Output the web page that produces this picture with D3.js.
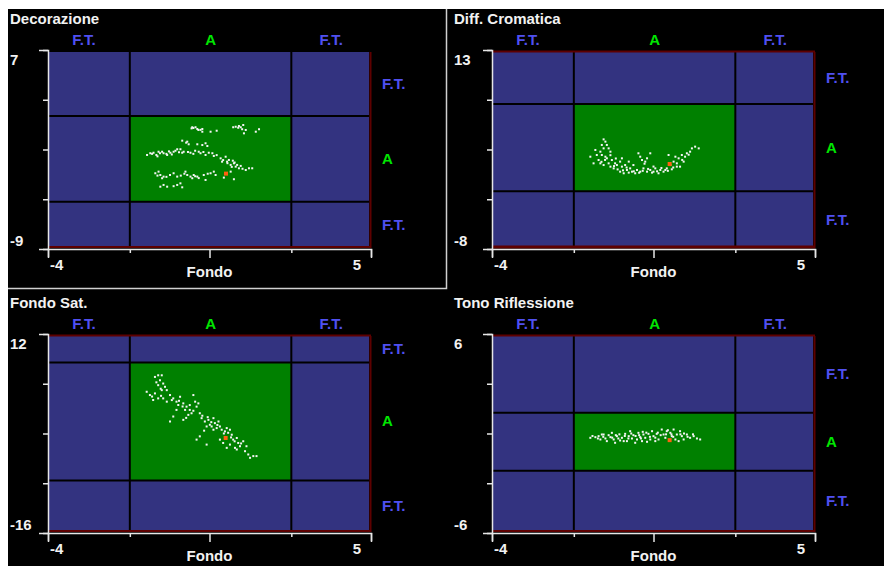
<!DOCTYPE html>
<html>
<head>
<meta charset="utf-8">
<script src="https://cdn.jsdelivr.net/npm/d3@7"></script>
<style>
  body { margin: 0; background: #fff; }
  svg { display: block; font-family: "Liberation Sans", Arial, sans-serif; font-weight: bold; }
</style>
</head>
<body>
<script>
// Chart data
const panelTitles = ["Decorazione", "Diff. Cromatica", "Fondo Sat.", "Tono Riflessione"];
const xDomain = [-4, 5];
const xTickValues = [-4, -1.72, 0.5, 2.78, 5];
const xZone = [-1.72, 2.78];
const xTitle = "Fondo";
const yDomains = [[-9, 7], [-8, 13], [-16, 12], [-6, 6]];
const yTickValues = [
    [-9, -5, -1, 3, 7],
    [-8, -2.75, 2.5, 7.75, 13],
    [-16, -9, -2, 5, 12],
    [-6, -3, 0, 3, 6]
];
const yZones = [[-5.2, 1.7], [-1.9, 7.3], [-8.6, 8], [-2.25, 1.25]];
const zoneLabels = ["F.T.", "A", "F.T."];

const decorazionePoints = [
    [0.02,0.79],[0.05,0.73],[0.11,0.79],[0.16,0.65],[0.19,0.57],[0.30,0.65],[0.30,0.43],[0.53,0.43],[0.70,0.51],
    [1.16,0.79],[1.23,0.83],[1.32,0.89],[1.37,0.79],[1.44,0.97],[1.41,0.63],[1.46,0.30],[1.51,0.57],[1.79,0.43],[1.88,0.63],
    [-0.26,-0.29],[-0.12,-0.37],[-0.08,-0.58],[0.16,-0.58],[0.30,-0.64],[0.39,-0.50],[0.44,-0.72],
    [-1.24,-1.44],[-1.15,-1.30],[-1.06,-1.26],[-0.98,-1.44],[-0.92,-1.18],[-0.82,-1.18],[-0.78,-1.30],[-0.68,-1.44],
    [-0.59,-1.26],[-0.50,-1.18],[-0.40,-0.98],[-0.31,-0.98],[-0.26,-1.26],[-0.22,-1.18],[-0.03,-1.26],[0.20,-1.18],
    [0.25,-1.30],[0.39,-1.44],[0.48,-1.26],[0.58,-1.30],[0.62,-1.52],[-0.70,-1.35],[-0.45,-1.10],[-0.10,-1.20],
    [0.10,-1.10],[-0.95,-1.55],[-0.55,-1.40],
    [0.81,-1.71],[0.85,-1.98],[0.95,-1.58],[0.99,-1.98],[1.04,-1.84],[1.09,-2.24],[1.18,-2.11],[1.23,-2.38],
    [1.27,-2.24],[1.32,-2.51],[1.37,-2.32],[1.09,-2.78],[1.51,-2.65],[1.60,-2.51],[1.69,-2.51],[1.18,-3.39],
    [1.00,-2.10],[1.15,-1.90],[1.20,-2.05],
    [-1.01,-2.91],[-0.92,-2.78],[-0.87,-3.05],[-0.78,-3.18],[-0.82,-3.31],[-0.50,-2.91],[-0.40,-3.18],[-0.17,-2.78],
    [-0.12,-3.05],[-0.03,-3.18],[0.02,-3.31],[0.06,-3.05],[0.16,-3.18],[0.34,-3.05],[0.39,-3.45],[0.53,-2.91],
    [0.62,-2.78],[0.67,-3.05],[0.90,-3.26],[-0.60,-3.05],[-0.30,-3.10],[0.20,-3.30],
    [-0.87,-3.99],[-0.78,-3.85],[-0.68,-3.99],[-0.40,-3.85],[-0.31,-3.72],[-0.26,-4.04],
    [-1.10,-1.35],[-0.88,-1.30],[-0.63,-1.15],[-0.35,-1.22],[0.05,-1.35],[0.33,-1.20],[0.70,-1.45],[0.88,-1.85],
    [1.12,-2.40],[1.42,-2.55],[-0.95,-3.10],[-0.70,-3.20],[-0.20,-2.95],[0.10,-3.15],[0.45,-2.95],[-0.50,-3.95],
    [0.00,0.70],[1.30,0.75],[0.25,0.58],[-0.15,-0.45]
];

const diffCromaticaPoints = [
    [-0.89,3.57],[-0.84,3.33],[-0.94,2.98],[-0.80,2.98],[-0.75,2.62],[-0.89,2.62],[-0.98,2.27],[-1.08,1.92],
    [-0.94,1.92],[-0.84,1.74],[-1.03,1.39],[-0.70,2.27],[-0.66,1.39],[-1.17,1.04],[-0.98,1.04],[-0.89,0.86],
    [-0.75,1.04],[-0.70,0.69],[-0.61,0.51],[-0.52,0.86],[-0.43,1.22],[-0.38,0.69],[-0.29,0.86],[-0.24,0.34],
    [-0.15,0.51],[-0.10,0.16],[-0.06,0.86],[-0.01,-0.01],[0.04,0.34],[0.08,2.10],[0.13,1.74],[0.18,1.39],
    [0.27,1.22],[0.32,1.57],[0.41,2.10],[0.22,0.51],[0.32,0.16],[0.41,0.34],[0.50,0.16],[0.55,0.51],
    [0.64,-0.01],[0.69,0.34],[0.78,0.16],[0.87,0.51],[0.97,0.86],[1.06,1.22],[1.15,1.04],[1.20,1.57],
    [1.24,0.69],[1.34,1.22],[1.38,1.74],[1.43,2.10],[1.52,2.27],[1.57,2.62],[1.66,2.80],[1.76,2.62],
    [0.92,1.92],[1.11,1.74],[1.29,1.92],[-0.38,1.57],[-0.19,1.22],[-1.26,1.74],[-1.12,2.45],
    [-0.43,0.16],[-0.33,-0.01],[-0.19,0.06],[0.13,0.16],[0.46,0.06],[0.83,0.34],[1.01,0.41],[1.15,0.69],
    [-0.80,1.57],[-0.57,1.04],
    [-0.95,1.20],[-0.85,1.40],[-0.60,0.75],[-0.50,0.40],[-0.35,0.30],[-0.25,0.60],[-0.05,0.20],[0.10,0.05],
    [0.20,0.25],[0.35,0.45],[0.60,0.20],[0.72,0.55],[0.90,0.25],[1.05,0.60],[1.30,1.40],[1.48,1.95],
    [-0.70,1.90],[-0.55,1.55],[0.25,1.00],[0.50,0.70]
];

const fondoSatPoints = [
    [-1.02,5.96],[-0.93,6.19],[-0.88,5.49],[-0.83,6.19],[-0.79,5.03],[-0.93,4.80],[-0.74,4.57],[-0.83,4.10],
    [-0.69,4.10],[-1.25,3.87],[-1.16,3.41],[-1.02,3.64],[-0.93,2.94],[-1.07,2.71],[-0.79,2.94],[-0.69,2.48],
    [-0.60,3.41],[-0.51,2.94],[-0.42,2.48],[-0.32,3.17],[-0.37,2.01],[-0.23,2.24],[-0.14,1.78],[-0.18,1.32],
    [-0.05,1.32],[0.00,0.85],[0.05,3.41],[0.10,2.48],[0.14,1.78],[0.19,2.24],[0.23,0.85],[0.28,0.16],
    [0.37,-0.31],[0.47,-0.08],[0.51,-0.77],[0.42,-1.01],[0.61,0.16],[0.65,-0.54],[0.70,-1.24],[0.79,-1.01],
    [0.84,-1.47],[0.93,-1.70],[0.98,-1.24],[1.07,-1.47],[1.12,-2.17],[1.16,-2.86],[1.26,-2.63],[1.30,-3.33],
    [1.35,-3.79],[1.44,-3.09],[1.07,-3.56],[0.98,-4.02],[1.49,-4.49],[1.58,-4.95],[1.63,-5.42],[1.72,-5.18],
    [1.81,-5.18],[-0.60,-0.31],[-0.51,0.39],[-0.23,-0.08],[0.14,-2.86],[0.23,-2.40],[0.42,-3.56],[0.61,-1.47],
    [0.79,-2.86],[0.88,-3.33],[1.21,-4.02],[-0.42,1.32],[-0.09,0.62],[0.56,-1.01],[0.75,-0.31],[1.26,-4.25],
    [1.53,-3.79],
    [-0.98,5.20],[-0.86,4.30],[-1.10,3.20],[-0.85,3.30],[-0.55,2.70],[-0.35,2.60],[-0.25,1.80],[-0.05,2.00],
    [0.05,1.20],[0.30,0.50],[0.45,0.30],[0.55,-0.40],[0.72,-0.80],[0.90,-2.00],[1.02,-1.90],[1.20,-3.10],
    [1.38,-3.40],[1.10,-2.55],[0.35,-1.60],[-0.15,0.20]
];

const tonoRiflessionePoints = [
    [-1.26,-0.26],[-1.12,-0.22],[-1.03,-0.16],[-0.98,-0.36],[-0.89,-0.06],[-0.84,-0.30],[-0.80,-0.46],[-0.70,-0.22],
    [-0.61,-0.36],[-0.57,-0.56],[-0.52,-0.16],[-0.43,-0.42],[-0.38,-0.26],[-0.29,-0.02],[-0.24,-0.46],[-0.19,-0.16],
    [-0.15,0.14],[-0.10,-0.30],[-0.06,-0.10],[0.04,-0.36],[0.08,0.04],[0.13,-0.22],[0.18,-0.46],[0.22,-0.06],
    [0.27,-0.26],[0.36,-0.02],[0.41,-0.36],[0.46,0.14],[0.50,-0.16],[0.59,-0.02],[0.64,-0.36],[0.73,0.24],
    [0.78,-0.06],[0.83,-0.26],[0.87,0.14],[0.97,0.04],[1.01,-0.16],[1.06,0.24],[1.11,-0.36],[1.15,-0.06],
    [1.24,0.14],[1.29,-0.16],[1.34,-0.36],[1.43,-0.06],[1.52,-0.26],[1.62,-0.16],[1.71,-0.30],[1.80,-0.36],
    [-0.94,-0.06],[-0.66,0.04],[-0.33,-0.46],[-0.01,-0.56],[0.32,-0.50],[0.55,-0.46],[1.20,-0.46],
    [-0.75,-0.10],[-0.45,-0.05],[0.00,-0.15],[0.30,0.05],[0.70,-0.10],[1.00,-0.05],[1.35,0.00],[-0.20,-0.30],
    [-1.20,-0.15],[-1.05,-0.30],[-0.90,-0.20],[-0.65,-0.25],[-0.48,-0.30],[-0.30,-0.15],[-0.12,0.00],[0.10,-0.10],
    [0.20,0.10],[0.40,-0.20],[0.62,0.05],[0.85,-0.05],[1.05,-0.20],[1.25,-0.05],[1.45,-0.20],[1.60,-0.05],
    [-0.55,-0.10],[0.15,-0.30],[0.55,-0.25],[0.90,0.20]
];

const panelPoints = [decorazionePoints, diffCromaticaPoints, fondoSatPoints, tonoRiflessionePoints];
const currentPoints = [[0.96, -2.94], [0.95, 0.97], [0.95, -2.63], [0.95, -0.40]];

// Layout
const W = 884, H = 566;
const offsets = [[0, 0], [444, 0], [0, 284], [444, 284]];
const blue = "#333380", green = "#008000", maroon = "#5e0000", axisCol = "#e6e6e6";

const svg = d3.select("body").append("svg")
    .attr("width", W)
    .attr("height", H);

svg.append("rect")
    .attr("x", 8).attr("y", 9)
    .attr("width", W - 8).attr("height", H - 9)
    .attr("fill", "#000");

// frame around the first panel
svg.append("path")
    .attr("d", "M446.5,9 V288.5 H8")
    .attr("fill", "none")
    .attr("stroke", "#d0d0d0")
    .attr("stroke-width", 1.5);

panelTitles.forEach((title, i) => {
    const [dx, dy] = offsets[i];
    const g = svg.append("g").attr("transform", `translate(${dx},${dy})`);

    const x = d3.scaleLinear().domain(xDomain).range([48, 371]);
    const y = d3.scaleLinear().domain(yDomains[i]).range([249, 50]);

    const top = 52, bottom = 248, left = 48, right = 369;
    const xb = [xDomain[0], xZone[0], xZone[1], xDomain[1]];
    const yb = [yDomains[i][0], yZones[i][0], yZones[i][1], yDomains[i][1]];

    // zone cells
    for (let r = 0; r < 3; r++) {
        for (let c = 0; c < 3; c++) {
            const x0 = Math.max(left, x(xb[c])), x1 = Math.min(right, x(xb[c + 1]));
            const y0 = Math.max(top, y(yb[r + 1])), y1 = Math.min(bottom, y(yb[r]));
            g.append("rect")
                .attr("x", x0).attr("y", y0)
                .attr("width", x1 - x0).attr("height", y1 - y0)
                .attr("fill", (r === 1 && c === 1) ? green : blue);
        }
    }

    // zone borders
    xZone.forEach(v => {
        g.append("line")
            .attr("x1", x(v)).attr("x2", x(v))
            .attr("y1", top).attr("y2", bottom)
            .attr("stroke", "#000").attr("stroke-width", 2);
    });
    yZones[i].forEach(v => {
        g.append("line")
            .attr("x1", left).attr("x2", right + 1)
            .attr("y1", y(v)).attr("y2", y(v))
            .attr("stroke", "#000").attr("stroke-width", 2);
    });

    // dark red frame
    g.append("line")
        .attr("x1", 370.5).attr("x2", 370.5).attr("y1", top).attr("y2", bottom)
        .attr("stroke", maroon).attr("stroke-width", 2);
    g.append("line")
        .attr("x1", left).attr("x2", 371).attr("y1", 247).attr("y2", 247)
        .attr("stroke", maroon).attr("stroke-width", i === 1 ? 3 : 2);
    if (i > 0) {
        g.append("line")
            .attr("x1", left).attr("x2", 371).attr("y1", 51.5).attr("y2", 51.5)
            .attr("stroke", maroon).attr("stroke-width", 2);
    }

    // scatter
    g.selectAll("rect.pt")
        .data(panelPoints[i])
        .enter()
        .append("rect")
        .attr("class", "pt")
        .attr("x", d => x(d[0]) - 1)
        .attr("y", d => y(d[1]) - 1)
        .attr("width", 2)
        .attr("height", 2)
        .attr("fill", "#f4f4f4");

    g.append("rect")
        .attr("x", x(currentPoints[i][0]) - 2)
        .attr("y", y(currentPoints[i][1]) - 2)
        .attr("width", 4).attr("height", 4)
        .attr("fill", "#ff6010");

    // Y axis
    const yAxis = g.append("g")
        .attr("transform", "translate(48,0)")
        .call(d3.axisLeft(y).tickValues(yTickValues[i]).tickSizeOuter(0).tickSize(5).tickFormat(""));
    yAxis.selectAll(".tick line")
        .attr("x2", (d, k) => (k === 0 || k === 4) ? -9 : -5);
    yAxis.selectAll("path, line").attr("stroke", axisCol).attr("stroke-width", 1.5);

    // X axis
    const xAxis = g.append("g")
        .attr("transform", "translate(0,249)")
        .call(d3.axisBottom(x).tickValues(xTickValues).tickSizeOuter(0).tickSize(8).tickFormat(""));
    xAxis.selectAll(".tick line")
        .attr("y2", (d, k) => (k % 2 === 0) ? 9 : 4);
    xAxis.selectAll("path, line").attr("stroke", axisCol).attr("stroke-width", 1.5);

    // labels
    g.append("text")
        .attr("x", 10).attr("y", 24)
        .attr("fill", "#f2f2f2")
        .attr("font-size", 15)
        .text(title);

    g.append("text")
        .attr("x", 10).attr("y", y(yDomains[i][1]) + 15)
        .attr("fill", "#f2f2f2").attr("font-size", 15)
        .text(yDomains[i][1]);
    g.append("text")
        .attr("x", 10).attr("y", y(yDomains[i][0]) - 3)
        .attr("fill", "#f2f2f2").attr("font-size", 15)
        .text(yDomains[i][0]);

    g.append("text")
        .attr("x", x(xDomain[0]) + 2).attr("y", 270)
        .attr("fill", "#f2f2f2").attr("font-size", 15)
        .text(xDomain[0]);
    g.append("text")
        .attr("x", x(xDomain[1]) - 10).attr("y", 270)
        .attr("text-anchor", "end")
        .attr("fill", "#f2f2f2").attr("font-size", 15)
        .text(xDomain[1]);
    g.append("text")
        .attr("x", x(xTickValues[2])).attr("y", 277)
        .attr("text-anchor", "middle")
        .attr("fill", "#f2f2f2").attr("font-size", 15)
        .text(xTitle);

    // zone labels on top
    zoneLabels.forEach((lab, c) => {
        g.append("text")
            .attr("x", (x(xb[c]) + x(xb[c + 1])) / 2 - (c === 0 ? 5 : 0))
            .attr("y", 45)
            .attr("text-anchor", "middle")
            .attr("fill", lab === "A" ? "#00e600" : "#5050f0")
            .attr("font-size", 15)
            .text(lab);
    });

    // zone labels on the right (top row first)
    zoneLabels.forEach((lab, r) => {
        const y0 = Math.max(top, y(yb[3 - r])), y1 = Math.min(bottom, y(yb[2 - r]));
        g.append("text")
            .attr("x", 382)
            .attr("y", (y0 + y1) / 2 + 5)
            .attr("fill", lab === "A" ? "#00e600" : "#5050f0")
            .attr("font-size", 15)
            .text(lab);
    });
});
</script>
</body>
</html>
